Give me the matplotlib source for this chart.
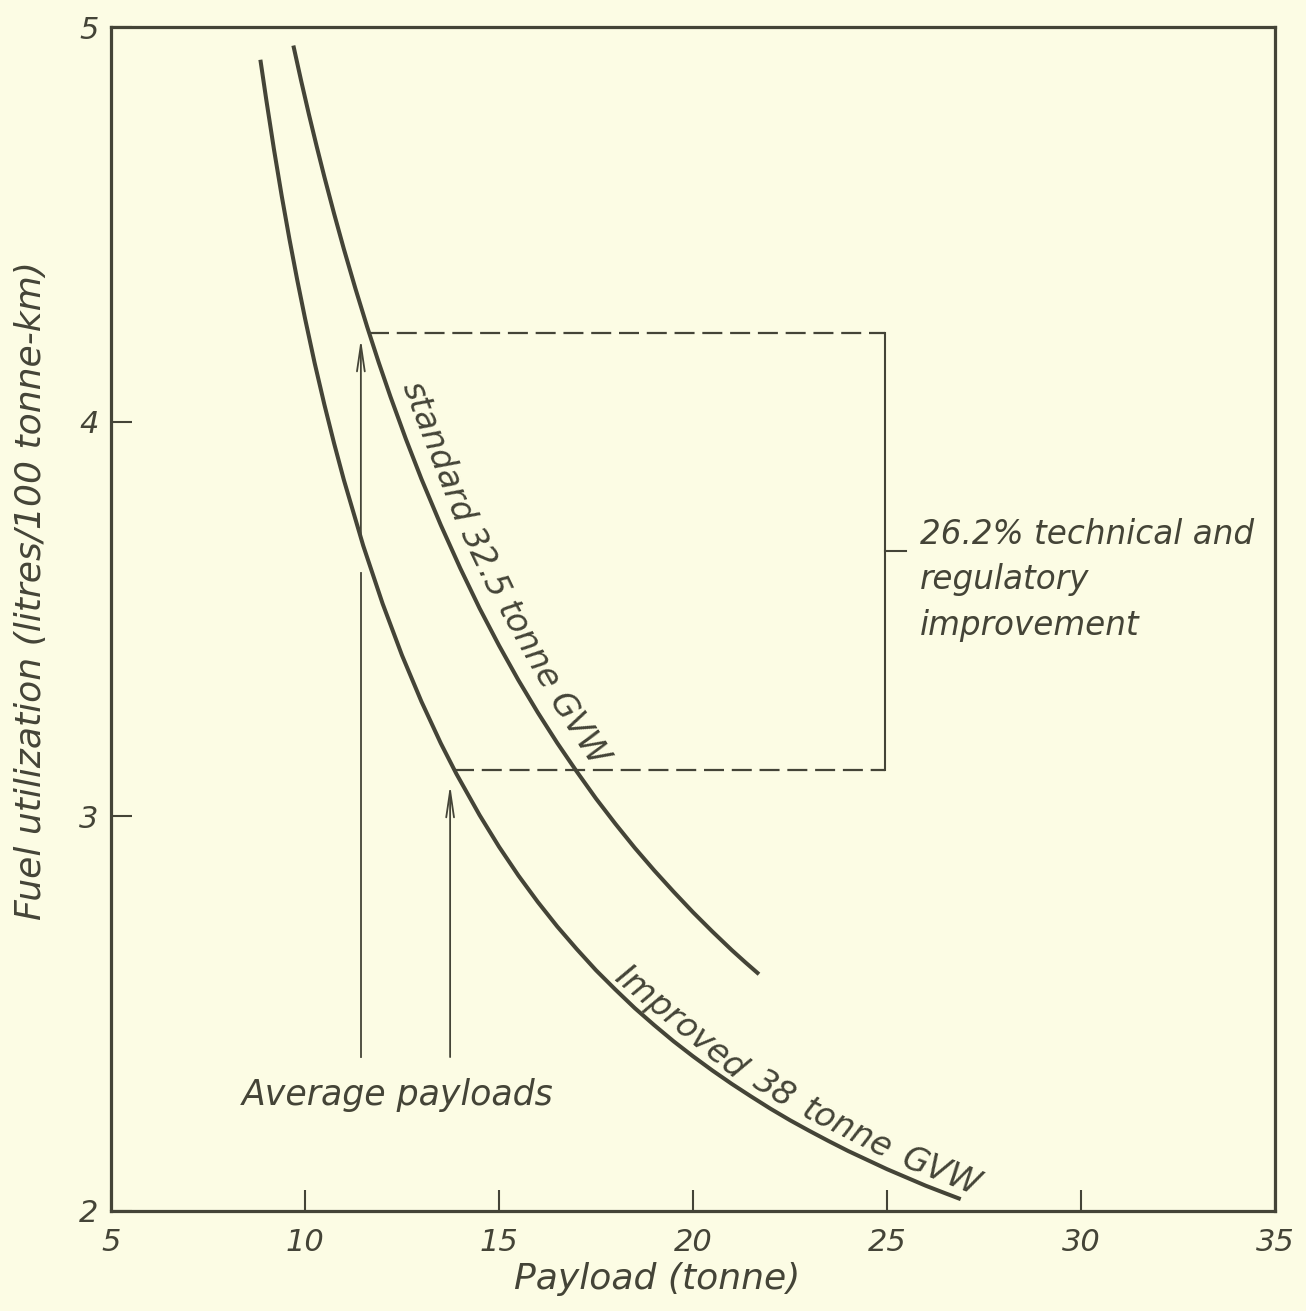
import numpy as np
import matplotlib
matplotlib.use("Agg")
import matplotlib.pyplot as plt

# ---- data -------------------------------------------------------------
payload_standard = [9.7, 9.9, 10.1, 10.3, 10.5, 10.75, 11.0, 11.3, 11.6, 11.9,
                    12.2, 12.6, 13.0, 13.5, 14.0, 14.5, 15.0, 15.5, 16.0, 16.5,
                    17.0, 17.5, 18.0, 18.5, 19.0, 19.5, 20.0, 20.5, 21.0, 21.35, 21.7]
fuel_standard = [4.953, 4.864, 4.779, 4.698, 4.620, 4.527, 4.438, 4.337, 4.241, 4.150,
                 4.064, 3.956, 3.855, 3.738, 3.629, 3.527, 3.433, 3.345, 3.263, 3.186,
                 3.114, 3.045, 2.981, 2.920, 2.863, 2.809, 2.757, 2.708, 2.661, 2.630, 2.600]

payload_improved = [8.85, 9.0, 9.2, 9.4, 9.6, 9.8, 10.0, 10.25, 10.5, 10.75,
                    11.0, 11.5, 12.0, 12.5, 13.0, 13.5, 13.9, 14.5, 15.0, 15.5,
                    16.0, 16.5, 17.0, 17.5, 18.0, 18.5, 19.0, 19.5, 20.0, 20.5,
                    21.0, 21.5, 22.0, 22.5, 23.0, 23.5, 24.0, 24.5, 25.0, 25.5,
                    26.0, 26.5, 26.9]
fuel_improved = [4.917, 4.817, 4.690, 4.572, 4.462, 4.359, 4.262, 4.148, 4.043, 3.945,
                 3.853, 3.686, 3.539, 3.408, 3.291, 3.185, 3.108, 3.003, 2.923, 2.850,
                 2.783, 2.721, 2.664, 2.610, 2.561, 2.514, 2.471, 2.430, 2.392, 2.356,
                 2.322, 2.290, 2.259, 2.230, 2.203, 2.177, 2.152, 2.129, 2.106, 2.085,
                 2.064, 2.045, 2.030]

# average payloads and their fuel use
avg_payload = [11.44, 13.74]
arrow_base = 2.39
arrow_tip = [4.21, 3.08]

# improvement bracket
improvement_pct = 26.2
bracket_top = 4.225
bracket_bottom = bracket_top * (1 - improvement_pct / 100)
bracket_start = [11.65, 13.85]
bracket_right = 24.95

x_ticks = [5, 10, 15, 20, 25, 30, 35]
y_ticks = [2, 3, 4, 5]

# ---- style ------------------------------------------------------------
BG = "#fcfce4"
INK = "#444437"
plt.rcParams["font.family"] = ["DejaVu Sans"]
plt.rcParams["font.style"] = "italic"
FS = 22

fig = plt.figure(figsize=(13.06, 13.11), dpi=100, facecolor=BG)
ax = fig.add_axes([111 / 1306, 1 - 1211 / 1311, (1275 - 111) / 1306, (1211 - 27) / 1311])
ax.set_facecolor(BG)
ax.set_xlim(5, 35)
ax.set_ylim(2, 5)

for s in ax.spines.values():
    s.set_linewidth(2.3)
    s.set_color(INK)

ax.set_xticks(x_ticks)
ax.set_xticklabels([str(v) for v in x_ticks])
ax.set_yticks(y_ticks)
ax.set_yticklabels([str(v) for v in y_ticks])
ax.tick_params(direction="in", length=15, width=1.5, color=INK, labelcolor=INK,
               labelsize=FS)
ax.tick_params(axis="x", pad=12)
ax.tick_params(axis="y", pad=9)

ax.set_xlabel("Payload (tonne)", fontsize=26, color=INK)
ax.xaxis.set_label_coords(0.469, -0.043)
ax.set_ylabel("Fuel utilization (litres/100 tonne-km)", fontsize=26, color=INK)
ax.yaxis.set_label_coords(-0.054, 0.524)

# ---- curves -----------------------------------------------------------
ax.plot(payload_standard, fuel_standard, color=INK, lw=2.9,
        solid_capstyle="butt", solid_joinstyle="round")
ax.plot(payload_improved, fuel_improved, color=INK, lw=2.9,
        solid_capstyle="butt", solid_joinstyle="round")

# ---- bracket ----------------------------------------------------------
dash = (0, (9, 3.5))
ax.plot([bracket_start[0], bracket_right], [bracket_top, bracket_top],
        color=INK, lw=1.6, linestyle=dash)
ax.plot([bracket_start[1], bracket_right], [bracket_bottom, bracket_bottom],
        color=INK, lw=1.6, linestyle=dash)
ax.plot([bracket_right, bracket_right], [bracket_bottom, bracket_top],
        color=INK, lw=1.5)
mid = (bracket_top + bracket_bottom) / 2
ax.plot([bracket_right, bracket_right + 0.55], [mid, mid], color=INK, lw=1.5)
ax.text(25.85, mid - 0.072, f"{improvement_pct}% technical and\nregulatory\nimprovement",
        fontsize=23.5, color=INK, ha="left", va="center", linespacing=1.48)

# ---- arrows -----------------------------------------------------------
arrow_kw = dict(arrowstyle="->,head_length=1.9,head_width=0.28", lw=1.3,
                color=INK, shrinkA=0, shrinkB=0)
# left arrow is broken just below the improved curve
cross = np.interp(avg_payload[0], payload_improved, fuel_improved)
ax.plot([avg_payload[0], avg_payload[0]], [arrow_base, cross - 0.09], color=INK, lw=1.3)
ax.annotate("", xy=(avg_payload[0], arrow_tip[0]), xytext=(avg_payload[0], cross),
            arrowprops=arrow_kw)
ax.annotate("", xy=(avg_payload[1], arrow_tip[1]), xytext=(avg_payload[1], arrow_base),
            arrowprops=arrow_kw)
ax.text(12.4, 2.294, "Average payloads", fontsize=25, color=INK, ha="center", va="center")


# ---- curve labels -----------------------------------------------------
def text_on_curve(xs, ys, x_start, words, size, offset, gap=1.0):
    """Lay words end to end along a curve, each turned to the local slope."""
    renderer = fig.canvas.get_renderer()
    xd = np.linspace(xs[0], xs[-1], 3000)
    pts = ax.transData.transform(np.column_stack([xd, np.interp(xd, xs, ys)]))
    arc = np.concatenate([[0], np.cumsum(np.hypot(*np.diff(pts, axis=0).T))])
    probe = ax.text(0, 0, "n n", fontsize=size)
    probe2 = ax.text(0, 0, "nn", fontsize=size)
    space = (probe.get_window_extent(renderer).width
             - probe2.get_window_extent(renderer).width)
    probe.remove()
    probe2.remove()
    s = np.interp(x_start, xd, arc)
    for w in words:
        t = ax.text(0, 0, w, fontsize=size, color=INK, ha="center", va="baseline",
                    rotation_mode="anchor")
        width = t.get_window_extent(renderer).width
        sc = s + width / 2
        p = np.array([np.interp(sc, arc, pts[:, 0]), np.interp(sc, arc, pts[:, 1])])
        a0 = np.array([np.interp(sc - 12, arc, pts[:, 0]), np.interp(sc - 12, arc, pts[:, 1])])
        a1 = np.array([np.interp(sc + 12, arc, pts[:, 0]), np.interp(sc + 12, arc, pts[:, 1])])
        ang = np.arctan2(a1[1] - a0[1], a1[0] - a0[0])
        normal = np.array([-np.sin(ang), np.cos(ang)])
        t.set_position(ax.transData.inverted().transform(p + offset * normal))
        t.set_rotation(np.degrees(ang))
        s += width + gap * space


text_on_curve(payload_standard, fuel_standard, 12.15,
              ["standard", "32.5", "tonne", "GVW"], 24, 15)
text_on_curve(payload_improved, fuel_improved, 17.85,
              ["Improved", "38", "tonne", "GVW"], 24, 9, gap=1.5)

fig.savefig("out.png", dpi=100, facecolor=BG)
